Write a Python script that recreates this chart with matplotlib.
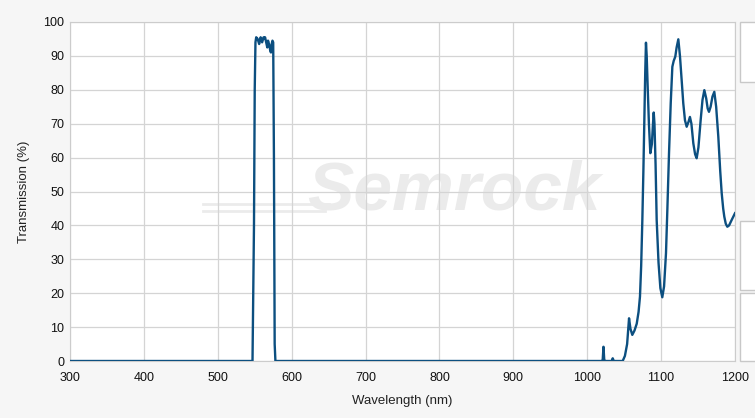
import matplotlib.pyplot as plt
from matplotlib.patches import Rectangle

plt.rcParams['font.family'] = ['Liberation Sans', 'DejaVu Sans']

# wavelength (nm) and transmission (%)
wavelength = [300, 547, 549, 550, 551, 552, 554, 556, 557, 558, 560, 562, 563,
              564, 566, 567, 568, 570, 571, 572, 573, 574, 575, 576, 577, 578,
              1020, 1021, 1022, 1023, 1024, 1033, 1034.5, 1036, 1048, 1051,
              1054, 1056.6, 1058.5, 1061, 1064, 1067, 1069.5, 1071.4, 1073,
              1074.6, 1076, 1077.3, 1078.5, 1079.5, 1080.5, 1081.8, 1083.5,
              1085.4, 1087.5, 1089, 1090, 1091, 1092.5, 1094, 1096.5, 1099,
              1101.6, 1104, 1106.6, 1108.5, 1110.7, 1113, 1115.2, 1117,
              1119.2, 1121, 1123.3, 1125.5, 1127.8, 1130, 1132.3, 1134.6,
              1137, 1139, 1141, 1143.6, 1146, 1148.1, 1150.5, 1153.5, 1156,
              1158.5, 1161, 1163, 1164.8, 1167, 1169.5, 1172, 1174.5, 1177.4,
              1180, 1182, 1184, 1185.5, 1187.5, 1189.6, 1192, 1195.5, 1200]
transmission = [0, 0, 40, 80, 94, 95.5, 95, 93.5, 94.5, 95.5, 94, 95.5, 95,
                95.5, 93.5, 92.5, 94.5, 93, 91.5, 91, 93.5, 94.5, 94, 60, 5, 0,
                0, 0.5, 4.2, 0.5, 0, 0, 0.8, 0, 0, 1.5,
                5, 12.6, 9.5, 7.7, 9, 11, 14.5, 19, 28,
                41.6, 56, 71, 85, 93.9, 90, 81, 70,
                61.3, 64, 70, 73.3, 70, 58, 41.6, 29, 21.5,
                18.8, 22, 31.8, 45, 61.3, 76, 86.8, 88.5,
                89.8, 92.5, 94.9, 90, 82.9, 76, 71, 69.1,
                70.5, 72, 70, 64.2, 61, 59.8, 63, 71, 77,
                79.9, 77.5, 74.5, 73.5, 75, 78, 79.4, 75, 66.2,
                56, 49.5, 45, 42.6, 40.5, 39.6, 40, 41.6, 43.6]

x_ticks = [300, 400, 500, 600, 700, 800, 900, 1000, 1100, 1200]
y_ticks = [0, 10, 20, 30, 40, 50, 60, 70, 80, 90, 100]

fig = plt.figure(figsize=(7.55, 4.18), dpi=100)
fig.patch.set_facecolor('#f6f6f6')
ax = fig.add_axes([70 / 755, 57 / 418, 665 / 755, 339 / 418])
ax.set_facecolor('white')

# side panels on the right edge
for top, bottom in [(22, 82), (221, 290), (293, 361)]:
    fig.patches.append(Rectangle((740 / 755, (418 - bottom) / 418), 20 / 755,
                                 (bottom - top) / 418, transform=fig.transFigure,
                                 facecolor='white', edgecolor='#c8c8c8', lw=1))

# faint watermark
ax.text(820, 50, 'Semrock', fontsize=50, fontweight='bold', style='italic',
        color='#ebebeb', ha='center', va='center', zorder=0)
ax.plot([480, 650], [46.3, 46.3], color='#ebebeb', lw=2, zorder=0)
ax.plot([480, 645], [44.2, 44.2], color='#ebebeb', lw=2, zorder=0)

ax.plot(wavelength, transmission, color='#0c4f80', lw=1.7, zorder=3)

ax.set_xlim(300, 1200)
ax.set_ylim(0, 100)
ax.set_xticks(x_ticks)
ax.set_yticks(y_ticks)
ax.grid(True, color='#d4d4d4', lw=0.9)
ax.tick_params(length=0, labelsize=9, colors='#111111')
ax.tick_params(axis='x', pad=8)
ax.tick_params(axis='y', pad=4)
for s in ax.spines.values():
    s.set_color('#cccccc')
    s.set_linewidth(0.8)

ax.set_xlabel('Wavelength (nm)', fontsize=9.5, color='#222222', labelpad=8)
ax.set_ylabel('Transmission (%)', fontsize=9.5, color='#222222', labelpad=10)

fig.savefig('out.png', dpi=100, facecolor=fig.get_facecolor())
